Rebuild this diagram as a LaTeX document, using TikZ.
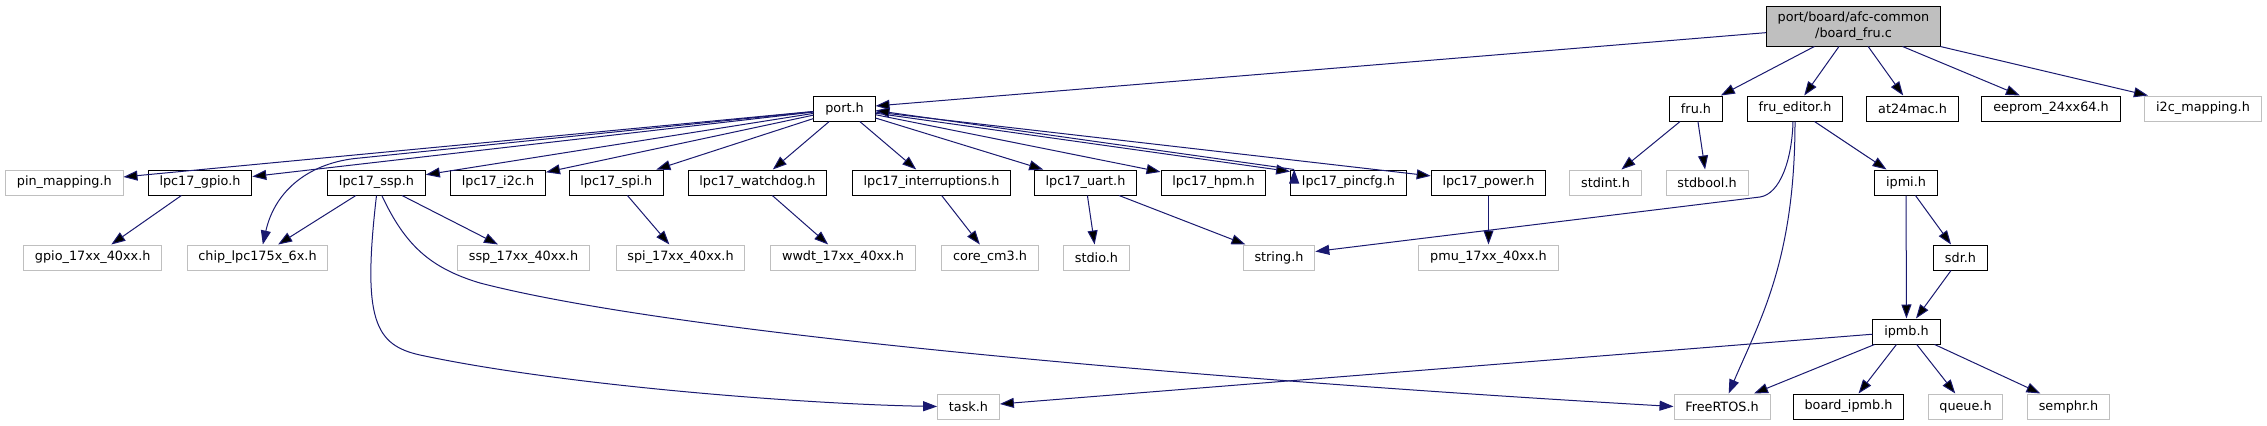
\documentclass[tikz,border=0pt]{standalone}
\usepackage{fontspec}
\setmainfont{DejaVu Sans}
\usetikzlibrary{
    arrows.meta
}
\definecolor{azulnoche}{HTML}{191970}
\definecolor{gris}{HTML}{BFBFBF}
\tikzset{
    >={Triangle[length=10.5pt,width=7.5pt]},
    file/.style={
        draw=black,
        fill=white,
        line width=0.75pt,
        minimum height=18.75pt,
        inner xsep=8.5pt,
        inner ysep=0pt,
        font=\fontsize{9.6}{11.5}\selectfont
    },
    extfile/.style={
        file,
        draw=gris
    },
    mainfile/.style={
        file,
        fill=gris,
        minimum height=30pt,
        align=center
    },
    dep/.style={
        ->,
        draw=azulnoche,
        line width=0.75pt
    }
}

\begin{document}
\begin{tikzpicture}[
    x=0.75pt,
    y=-0.75pt
]

    \fill[white] (0,0) rectangle (2267,425);
    \useasboundingbox (0,0) rectangle (2267,425);

    % Archivo principal
    \node[mainfile] (root) at (1853.5,26) {port/board/afc-common\\/board\_fru.c};

    % Primer nivel
    \node[file]    (port)    at (844.5,108.5)  {port.h};
    \node[file]    (fru)     at (1696,108.5)   {fru.h};
    \node[file]    (fruedit) at (1795,108.5)   {fru\_editor.h};
    \node[file]    (at24)    at (1912.5,108.5) {at24mac.h};
    \node[file]    (eeprom)  at (2051,108.5)   {eeprom\_24xx64.h};
    \node[extfile] (i2cmap)  at (2203,108.5)   {i2c\_mapping.h};

    % Segundo nivel
    \node[extfile] (pinmap)  at (64.3,182.5)   {pin\_mapping.h};
    \node[file]    (gpio)    at (200,182.5)    {lpc17\_gpio.h};
    \node[file]    (ssp)     at (376.5,182.5)  {lpc17\_ssp.h};
    \node[file]    (i2c)     at (498,182.5)    {lpc17\_i2c.h};
    \node[file]    (spi)     at (616.3,182.5)  {lpc17\_spi.h};
    \node[file]    (wdog)    at (757.5,182.5)  {lpc17\_watchdog.h};
    \node[file]    (irq)     at (931.5,182.5)  {lpc17\_interruptions.h};
    \node[file]    (uart)    at (1085.5,182.5) {lpc17\_uart.h};
    \node[file]    (hpm)     at (1213.5,182.5) {lpc17\_hpm.h};
    \node[file]    (pincfg)  at (1348.5,182.5) {lpc17\_pincfg.h};
    \node[file]    (power)   at (1488.5,182.5) {lpc17\_power.h};
    \node[extfile] (stdint)  at (1605.5,182.5) {stdint.h};
    \node[extfile] (stdbool) at (1707,182.5)   {stdbool.h};
    \node[file]    (ipmi)    at (1906,182.5)   {ipmi.h};

    % Tercer nivel
    \node[extfile] (gpioreg) at (92.7,257.5)   {gpio\_17xx\_40xx.h};
    \node[extfile] (chip)    at (257.5,257.5)  {chip\_lpc175x\_6x.h};
    \node[extfile] (sspreg)  at (523.5,257.5)  {ssp\_17xx\_40xx.h};
    \node[extfile] (spireg)  at (680.5,257.5)  {spi\_17xx\_40xx.h};
    \node[extfile] (wwdt)    at (843,257.5)    {wwdt\_17xx\_40xx.h};
    \node[extfile] (corecm)  at (990,257.5)    {core\_cm3.h};
    \node[extfile] (stdio)   at (1096.5,257.5) {stdio.h};
    \node[extfile] (string)  at (1279,257.5)   {string.h};
    \node[extfile] (pmu)     at (1488.5,257.5) {pmu\_17xx\_40xx.h};
    \node[file]    (sdr)     at (1960.5,257.5) {sdr.h};

    \node[file]    (ipmb)    at (1906.5,331.5) {ipmb.h};

    % Ultimo nivel
    \node[extfile] (task)      at (968.5,406.5)  {task.h};
    \node[extfile] (freertos)  at (1722,406.5)   {FreeRTOS.h};
    \node[file]    (boardipmb) at (1848.5,406.5) {board\_ipmb.h};
    \node[extfile] (queue)     at (1965.5,406.5) {queue.h};
    \node[extfile] (semphr)    at (2068.5,406.5) {semphr.h};

    % Dependencias
    \path[dep]

        % board_fru.c
        ([yshift=-5pt]root.west) edge (port)
        (root)
            edge (fru)
            edge (fruedit)
            edge (at24)
            edge (eeprom)
            edge (i2cmap)

        % port.h
        (port)
            edge (pinmap)
            edge (gpio)
            edge (ssp)
            edge (i2c)
            edge (spi)
            edge (wdog)
            edge (irq)
            edge (uart)
            edge (hpm)
            edge (power)
        ([yshift=-3.5pt]port.east) edge ([yshift=-1.5pt]pincfg.north west)
        ([xshift=3pt]pincfg.north west) edge ([yshift=-1.5pt]port.east)

        % drivers lpc17
        (gpio) edge (gpioreg)
        (ssp)
            edge (chip)
            edge (sspreg)
        (spi) edge (spireg)
        (wdog) edge (wwdt)
        (irq) edge (corecm)
        (uart)
            edge (stdio)
            edge (string)
        (power) edge (pmu)

        % fru
        (fru)
            edge (stdint)
            edge (stdbool)
        (fruedit) edge (ipmi)

        % ipmi
        (ipmi)
            edge (sdr)
            edge (ipmb)
        (sdr) edge (ipmb)
        (ipmb)
            edge (task)
            edge (freertos)
            edge (boardipmb)
            edge (queue)
            edge (semphr);

    % Conexiones curvas
    \draw[dep] (port) -- (360,158)
        .. controls (310,162) and (275,190) .. ([xshift=4pt]chip.north);
    \draw[dep] (ssp.south)
        .. controls (362,320) and (375,345) .. (420,355)
        .. controls (560,385) and (800,404) .. (task.west);
    \draw[dep] ([xshift=4pt]ssp.south)
        .. controls (405,245) and (430,268) .. (480,283)
        .. controls (700,340) and (1300,385) .. (freertos.west);
    \draw[dep] ([xshift=-1.5pt]fruedit.south)
        .. controls (1792,160) and (1780,194) .. (1760,197)
        -- ([yshift=4.5pt]string.east);
    \draw[dep] (fruedit.south)
        .. controls (1795,260) and (1760,320) .. ([xshift=5pt]freertos.north);

\end{tikzpicture}
\end{document}
